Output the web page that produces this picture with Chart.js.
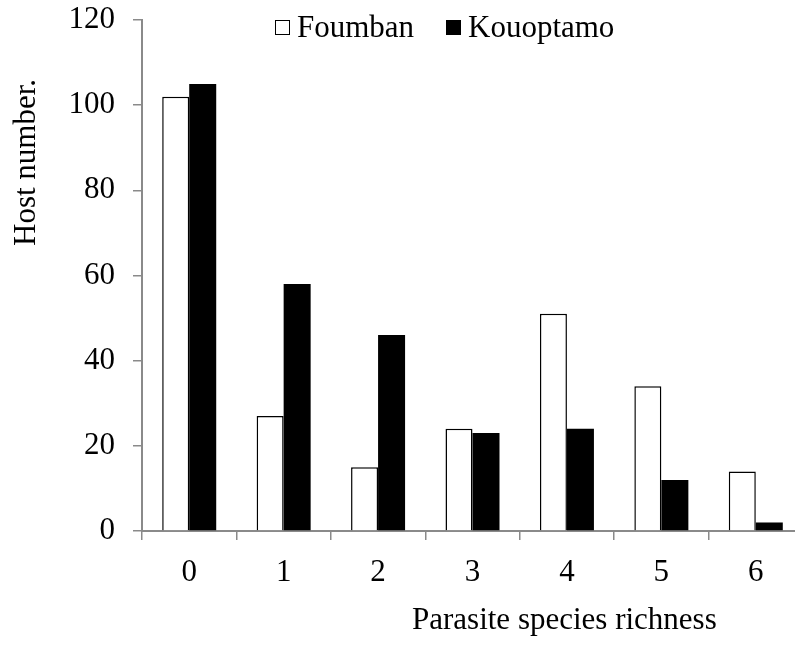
<!DOCTYPE html>
<html>
<head>
<meta charset="utf-8">
<script src="https://cdn.jsdelivr.net/npm/chart.js@4/dist/chart.umd.min.js"></script>
<style>
  html, body { margin: 0; padding: 0; background: #fff; overflow: hidden; }
  #wrap { width: 795px; height: 647px; overflow: hidden; }
</style>
</head>
<body>
<div id="wrap"><canvas id="richnessChart" width="815" height="647"></canvas></div>
<script>
const categories = ['0', '1', '2', '3', '4', '5', '6'];
const foumban = [102, 27, 15, 24, 51, 34, 14];
const kouoptamo = [105, 58, 46, 23, 24, 12, 2];
const yTicks = [0, 20, 40, 60, 80, 100, 120];

const FONT = '"Liberation Serif", "Times New Roman", serif';
const AXIS_GREY = '#8a8a8a';

// legend + axis titles drawn by hand, the way the original figure places them
const figureText = {
    id: 'figureText',
    afterDraw(chart) {
        const ctx = chart.ctx;
        ctx.save();
        ctx.font = '31px ' + FONT;
        ctx.fillStyle = '#000';
        ctx.textBaseline = 'alphabetic';
        ctx.textAlign = 'left';

        // legend
        const items = [
            { x: 275, ds: chart.data.datasets[0] },
            { x: 446, ds: chart.data.datasets[1] }
        ];
        items.forEach(it => {
            ctx.fillStyle = it.ds.backgroundColor;
            ctx.fillRect(it.x, 20, 15, 15);
            ctx.strokeStyle = '#000';
            ctx.lineWidth = 1;
            ctx.strokeRect(it.x + 0.5, 20.5, 14, 14);
            ctx.fillStyle = '#000';
            ctx.fillText(it.ds.label, it.x + 22, 37);
        });

        // x title
        ctx.fillText('Parasite species richness', 412, 629);

        // y title
        ctx.translate(35, 246);
        ctx.rotate(-Math.PI / 2);
        ctx.fillText('Host number.', 0, 0);
        ctx.restore();
    }
};

const ctx = document.getElementById('richnessChart').getContext('2d');

new Chart(ctx, {
    type: 'bar',
    data: {
        labels: categories,
        datasets: [{
            label: 'Foumban',
            data: foumban,
            backgroundColor: '#ffffff',
            borderColor: '#000000',
            borderWidth: 1.5,
            categoryPercentage: 0.572,
            barPercentage: 1.0
        }, {
            label: 'Kouoptamo',
            data: kouoptamo,
            backgroundColor: '#000000',
            borderColor: '#000000',
            borderWidth: 0,
            categoryPercentage: 0.572,
            barPercentage: 1.0
        }]
    },
    options: {
        responsive: false,
        animation: false,
        layout: { padding: { top: 20, right: 12, left: 0, bottom: 0 } },
        plugins: {
            legend: { display: false },
            tooltip: { enabled: false }
        },
        scales: {
            x: {
                grid: {
                    display: true,
                    drawOnChartArea: false,
                    drawTicks: true,
                    tickLength: 9,
                    color: AXIS_GREY,
                    lineWidth: 1.5
                },
                border: { display: true, color: AXIS_GREY, width: 2 },
                ticks: {
                    color: '#000',
                    font: { family: FONT, size: 31 },
                    padding: 14
                },
                afterFit: function (scale) {
                    scale.height = 116;
                    scale.paddingLeft = 0;
                    scale.paddingRight = 0;
                }
            },
            y: {
                min: 0,
                max: 120,
                afterBuildTicks: function (scale) {
                    scale.ticks = yTicks.map(v => ({ value: v }));
                },
                grid: {
                    display: true,
                    drawOnChartArea: false,
                    drawTicks: true,
                    tickLength: 9,
                    color: AXIS_GREY,
                    lineWidth: 1.5
                },
                border: { display: true, color: AXIS_GREY, width: 2 },
                ticks: {
                    color: '#000',
                    font: { family: FONT, size: 31 },
                    padding: 18
                },
                afterFit: function (scale) {
                    scale.width = 142;
                    scale.paddingTop = 0;
                    scale.paddingBottom = 0;
                }
            }
        }
    },
    plugins: [figureText]
});
</script>
</body>
</html>
